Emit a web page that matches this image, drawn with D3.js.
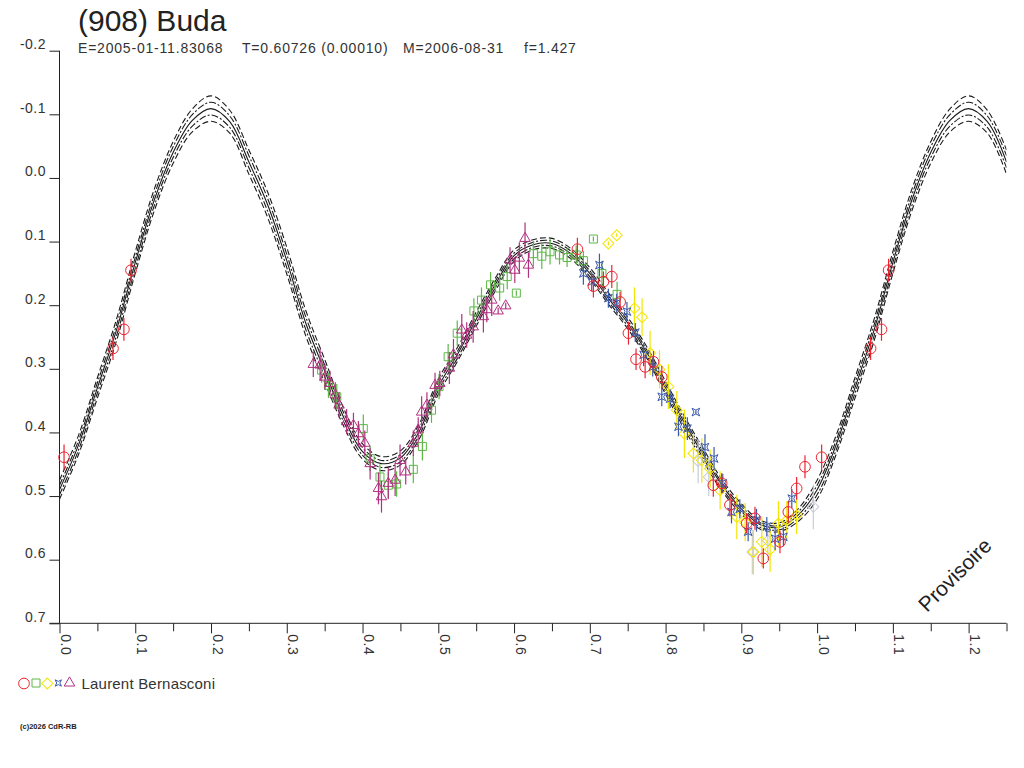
<!DOCTYPE html>
<html>
<head>
<meta charset="utf-8">
<script src="https://cdn.jsdelivr.net/npm/d3@7"></script>
<style>
body { margin: 0; background: #fff; }
text { font-family: "Liberation Sans", Arial, sans-serif; fill: #333; }
</style>
</head>
<body>
<svg class="chart" width="1024" height="768"></svg>
<script>

// fit curve (one rotation)
var curvePhase = [0, 0.025, 0.05, 0.075, 0.1, 0.125, 0.15, 0.175, 0.2, 0.225, 0.25, 0.275, 0.3, 0.325, 0.35, 0.375, 0.4, 0.425, 0.45, 0.475,
	0.5, 0.525, 0.55, 0.575, 0.6, 0.625, 0.65, 0.675, 0.7, 0.725, 0.75, 0.775, 0.8, 0.825, 0.85, 0.875, 0.9, 0.925, 0.95, 0.975, 1.0];
var curveMid = [0.490, 0.420, 0.330, 0.240, 0.133, 0.035, -0.040, -0.090, -0.109, -0.088, -0.025, 0.043, 0.130, 0.228, 0.303, 0.376, 0.430, 0.449, 0.440, 0.398,
	0.328, 0.278, 0.222, 0.168, 0.122, 0.105, 0.103, 0.119, 0.150, 0.190, 0.228, 0.274, 0.330, 0.385, 0.436, 0.484, 0.520, 0.545, 0.549, 0.530, 0.490];
var curveOuterUp = [0.475, 0.405, 0.314, 0.223, 0.116, 0.018, -0.057, -0.108, -0.129, -0.106, -0.044, 0.023, 0.109, 0.208, 0.285, 0.362, 0.418, 0.438, 0.429, 0.386,
	0.316, 0.267, 0.211, 0.158, 0.113, 0.097, 0.095, 0.111, 0.141, 0.181, 0.219, 0.265, 0.320, 0.375, 0.426, 0.475, 0.512, 0.538, 0.542, 0.520, 0.475];
var curveOuterDown = [0.505, 0.435, 0.346, 0.257, 0.150, 0.052, -0.023, -0.072, -0.089, -0.070, -0.006, 0.063, 0.151, 0.248, 0.321, 0.390, 0.442, 0.460, 0.451, 0.410,
	0.340, 0.289, 0.233, 0.178, 0.131, 0.113, 0.111, 0.127, 0.159, 0.199, 0.237, 0.283, 0.340, 0.395, 0.446, 0.493, 0.528, 0.552, 0.556, 0.540, 0.505];
var curveInnerUp = [0.483, 0.413, 0.322, 0.232, 0.125, 0.027, -0.049, -0.099, -0.119, -0.097, -0.035, 0.033, 0.120, 0.218, 0.294, 0.369, 0.424, 0.444, 0.435, 0.392,
	0.322, 0.273, 0.217, 0.163, 0.118, 0.101, 0.099, 0.115, 0.146, 0.186, 0.224, 0.270, 0.325, 0.380, 0.431, 0.480, 0.516, 0.542, 0.546, 0.525, 0.483];
var curveInnerDown = [0.498, 0.428, 0.338, 0.249, 0.142, 0.044, -0.032, -0.081, -0.099, -0.079, -0.016, 0.053, 0.141, 0.238, 0.312, 0.383, 0.436, 0.455, 0.446, 0.404,
	0.334, 0.284, 0.228, 0.173, 0.127, 0.109, 0.107, 0.123, 0.155, 0.195, 0.233, 0.279, 0.335, 0.390, 0.441, 0.489, 0.524, 0.549, 0.553, 0.535, 0.498];

// observations, by session
var redPhase = [0.006, 0.0706, 0.085, 0.0944, 0.6836, 0.7047, 0.718, 0.729, 0.740, 0.751, 0.761, 0.773, 0.784, 0.795, 0.863, 0.874, 0.885, 0.907, 0.918, 0.929, 0.951, 0.962, 0.973, 0.984];
var redMag = [0.439, 0.268, 0.238, 0.145, 0.112, 0.170, 0.163, 0.155, 0.195, 0.244, 0.285, 0.297, 0.289, 0.313, 0.483, 0.480, 0.514, 0.543, 0.535, 0.598, 0.572, 0.525, 0.488, 0.454];
var redErr = [0.020, 0.018, 0.018, 0.018, 0.018, 0.018, 0.016, 0.018, 0.016, 0.018, 0.017, 0.018, 0.017, 0.018, 0.018, 0.016, 0.018, 0.016, 0.018, 0.016, 0.018, 0.017, 0.018, 0.018];

var greenPhase = [0.346, 0.355, 0.366, 0.401, 0.410, 0.423, 0.434, 0.445, 0.467, 0.479, 0.491, 0.501, 0.513, 0.525, 0.547, 0.557, 0.569, 0.581, 0.591, 0.603,
	0.6255, 0.6366, 0.6475, 0.660, 0.670, 0.682, 0.6915, 0.7047, 0.716, 0.736];
var greenMag = [0.302, 0.326, 0.344, 0.394, 0.441, 0.470, 0.483, 0.481, 0.458, 0.422, 0.365, 0.328, 0.281, 0.244, 0.209, 0.192, 0.168, 0.173, 0.155, 0.181,
	0.119, 0.123, 0.116, 0.121, 0.125, 0.121, 0.130, 0.096, 0.150, 0.183];
var greenErr = [0.020, 0.020, 0.020, 0.022, 0.020, 0.020, 0.020, 0.020, 0.022, 0.022, 0.020, 0.020, 0.020, 0.020, 0.020, 0.020, 0.020, 0.020, 0.020, 0.004,
	0.020, 0.020, 0.020, 0.015, 0.015, 0.015, 0.015, 0.004, 0.020, 0.020];

var yellowPhase = [0.7245, 0.7355, 0.7589, 0.769, 0.7795, 0.792, 0.8037, 0.8148, 0.8248, 0.8367, 0.8478, 0.8588, 0.872, 0.894, 0.905, 0.916, 0.927, 0.938, 0.949, 0.960, 0.973];
var yellowMag = [0.103, 0.090, 0.205, 0.219, 0.275, 0.301, 0.328, 0.365, 0.402, 0.433, 0.444, 0.457, 0.491, 0.533, 0.541, 0.588, 0.572, 0.584, 0.543, 0.538, 0.530];
var yellowErr = [0.003, 0.003, 0.033, 0.030, 0.035, 0.030, 0.035, 0.030, 0.038, 0.030, 0.035, 0.030, 0.030, 0.035, 0.030, 0.035, 0.040, 0.035, 0.035, 0.030, 0.030];

var greyPhase = [0.843, 0.857, 0.9145, 0.935, 0.995];
var greyMag = [0.445, 0.470, 0.588, 0.570, 0.517];
var greyErr = [0.035, 0.030, 0.035, 0.030, 0.035];

var bluePhase = [0.6915, 0.7025, 0.7127, 0.7245, 0.7355, 0.749, 0.760, 0.771, 0.783, 0.795, 0.806, 0.817, 0.8288, 0.840, 0.852, 0.864, 0.8755, 0.887, 0.898, 0.909, 0.920, 0.9336, 0.9446, 0.9555, 0.9666];
var blueMag = [0.150, 0.163, 0.137, 0.189, 0.197, 0.210, 0.243, 0.278, 0.297, 0.344, 0.347, 0.391, 0.394, 0.368, 0.423, 0.441, 0.480, 0.525, 0.520, 0.556, 0.538, 0.548, 0.567, 0.564, 0.504];
var blueErr = [0.018, 0.015, 0.018, 0.015, 0.015, 0.015, 0.015, 0.018, 0.015, 0.015, 0.015, 0.015, 0.018, 0.003, 0.020, 0.018, 0.015, 0.018, 0.015, 0.015, 0.018, 0.015, 0.018, 0.015, 0.015];

var purplePhase = [0.335, 0.344, 0.3505, 0.357, 0.364, 0.369, 0.379, 0.388, 0.3945, 0.403, 0.410, 0.421, 0.425, 0.434, 0.443, 0.4495, 0.457, 0.467, 0.4735, 0.478,
	0.485, 0.4957, 0.502, 0.5146, 0.520, 0.531, 0.5375, 0.546, 0.5595, 0.564, 0.5705, 0.579, 0.589, 0.5947, 0.601, 0.607, 0.6145, 0.619];
var purpleMag = [0.293, 0.294, 0.313, 0.323, 0.341, 0.357, 0.383, 0.389, 0.402, 0.417, 0.449, 0.488, 0.501, 0.480, 0.475, 0.444, 0.462, 0.417, 0.396, 0.368,
	0.357, 0.326, 0.323, 0.299, 0.278, 0.239, 0.247, 0.234, 0.218, 0.207, 0.192, 0.209, 0.201, 0.129, 0.145, 0.126, 0.095, 0.137];
var purpleErr = [0.020, 0.025, 0.020, 0.020, 0.020, 0.020, 0.020, 0.020, 0.020, 0.020, 0.025, 0.025, 0.025, 0.025, 0.025, 0.025, 0.020, 0.020, 0.020, 0.025,
	0.020, 0.020, 0.020, 0.025, 0.025, 0.025, 0.020, 0.025, 0.025, 0.020, 0.025, 0.005, 0.005, 0.020, 0.020, 0.025, 0.025, 0.020];

var xMajorTicks = [0, 0.1, 0.2, 0.3, 0.4, 0.5, 0.6, 0.7, 0.8, 0.9, 1.0, 1.1, 1.2];
var xTickLabels = ["0.0", "0.1", "0.2", "0.3", "0.4", "0.5", "0.6", "0.7", "0.8", "0.9", "1.0", "1.1", "1.2"];
var xMinorTicks = [0.05, 0.15, 0.25, 0.35, 0.45, 0.55, 0.65, 0.75, 0.85, 0.95, 1.05, 1.15, 1.25];
var yTicks = [-0.2, -0.1, 0, 0.1, 0.2, 0.3, 0.4, 0.5, 0.6, 0.7];
var yTickLabels = ["-0.2", "-0.1", "0.0", "0.1", "0.2", "0.3", "0.4", "0.5", "0.6", "0.7"];

var observer = "Laurent Bernasconi";

var margin = {top: 50.7, right: 17.5, bottom: 144.7, left: 59.5},
	width = 1024 - margin.left - margin.right,
	height = 768 - margin.top - margin.bottom;

var x = d3.scaleLinear()
	.domain([0, 1.25])
	.range([0, width]);
var y = d3.scaleLinear()
	.domain([-0.2, 0.7])
	.range([0, height]);

var svg = d3.select(".chart");
var chart = svg.append("g")
	.attr("transform", "translate(" + margin.left + "," + margin.top + ")");

// phase plot: anything in the first quarter of the rotation is shown again after 1.0
function unfold(ph, vals, errs) {
	var out = [];
	ph.forEach(function(p, i) {
		out.push({p: p, m: vals[i], e: errs ? errs[i] : 0});
		if (p + 1 > 1.0 && p + 1 <= 1.25 + 1e-9) out.push({p: p + 1, m: vals[i], e: errs ? errs[i] : 0});
	});
	return out.sort(function(a, b) { return a.p - b.p; });
}

// axes
var yAxis = d3.axisLeft(y)
	.tickValues(yTicks)
	.tickSize(10)
	.tickFormat(function(d, i) { return yTickLabels[i]; });
var gy = chart.append("g").call(yAxis);
gy.select(".domain").remove();
gy.selectAll("line").attr("stroke", "#222");
gy.selectAll("text")
	.attr("x", -13.5)
	.attr("dy", -2)
	.style("font-size", "14px")
	.style("letter-spacing", "0.5px")
	.style("fill", "#333")
	.style("font-family", "'Liberation Sans', Arial, sans-serif");

var gxMinor = chart.append("g")
	.attr("transform", "translate(0," + height + ")")
	.call(d3.axisBottom(x).tickValues(xMinorTicks).tickSize(8).tickFormat(""));
gxMinor.select(".domain").remove();
gxMinor.selectAll("line").attr("stroke", "#222");

var gx = chart.append("g")
	.attr("transform", "translate(0," + height + ")")
	.call(d3.axisBottom(x).tickValues(xMajorTicks).tickSize(10).tickFormat(function(d, i) { return xTickLabels[i]; }));
gx.select(".domain").remove();
gx.selectAll("line").attr("stroke", "#222");
gx.selectAll("text")
	.attr("x", 0)
	.attr("y", 0)
	.attr("dy", 0)
	.attr("transform", "translate(1,11) rotate(90)")
	.style("text-anchor", "start")
	.style("font-size", "14px")
	.style("letter-spacing", "0.5px")
	.style("fill", "#333")
	.style("font-family", "'Liberation Sans', Arial, sans-serif");

chart.append("line")
	.attr("x1", 0).attr("x2", 0)
	.attr("y1", y(-0.2)).attr("y2", y(0.7))
	.attr("stroke", "#222");
chart.append("line")
	.attr("x1", -10).attr("x2", x(1.25))
	.attr("y1", height).attr("y2", height)
	.attr("stroke", "#222");

// fit curves
chart.append("clipPath").attr("id", "plotclip")
  .append("rect")
	.attr("width", width)
	.attr("height", height);

var line = d3.line()
	.x(function(d) { return x(d.p); })
	.y(function(d) { return y(d.m); })
	.curve(d3.curveCatmullRom.alpha(0.5));

var curves = [
	{vals: curveOuterUp, dash: "6,3"},
	{vals: curveOuterDown, dash: "6,3"},
	{vals: curveInnerUp, dash: "7,2,2,2"},
	{vals: curveInnerDown, dash: "7,2,2,2"},
	{vals: curveMid, dash: null}
];
var gc = chart.append("g").attr("clip-path", "url(#plotclip)");
curves.forEach(function(c) {
	gc.append("path")
		.datum(unfold(curvePhase, c.vals))
		.attr("d", line)
		.attr("fill", "none")
		.attr("stroke", "#1a1a1a")
		.attr("stroke-width", 1.1)
		.attr("stroke-dasharray", c.dash);
});

// symbols
var symbolStar4 = {
	draw: function(ctx, size) {
		var r = Math.sqrt(size) / 2, k = r * 0.5;
		ctx.moveTo(-r, -r); ctx.lineTo(0, -k); ctx.lineTo(r, -r); ctx.lineTo(k, 0);
		ctx.lineTo(r, r); ctx.lineTo(0, k); ctx.lineTo(-r, r); ctx.lineTo(-k, 0);
		ctx.closePath();
	}
};
var shapes = {
	circle: {path: d3.symbol(d3.symbolCircle, 90)(), rot: 0},
	square: {path: d3.symbol(d3.symbolSquare, 64)(), rot: 0},
	diamond: {path: d3.symbol(d3.symbolSquare, 60)(), rot: 45},
	star: {path: d3.symbol(symbolStar4, 60)(), rot: 0},
	triangle: {path: d3.symbol(d3.symbolTriangle, 48)(), rot: 0}
};

var sessions = [
	{ph: greyPhase, mag: greyMag, err: greyErr, color: "#c9ccd8", shape: "diamond"},
	{ph: greenPhase, mag: greenMag, err: greenErr, color: "#5cb946", shape: "square"},
	{ph: purplePhase, mag: purpleMag, err: purpleErr, color: "#b1307f", shape: "triangle"},
	{ph: yellowPhase, mag: yellowMag, err: yellowErr, color: "#f3e600", shape: "diamond"},
	{ph: bluePhase, mag: blueMag, err: blueErr, color: "#3c59ab", shape: "star"},
	{ph: redPhase, mag: redMag, err: redErr, color: "#ec2430", shape: "circle"}
];

sessions.forEach(function(s) {
	var pts = unfold(s.ph, s.mag, s.err);
	var g = chart.append("g");
	g.selectAll("line")
		.data(pts)
	  .enter().append("line")
		.attr("x1", function(d) { return x(d.p); })
		.attr("x2", function(d) { return x(d.p); })
		.attr("y1", function(d) { return y(d.m - d.e); })
		.attr("y2", function(d) { return y(d.m + d.e); })
		.attr("stroke", s.color)
		.attr("stroke-width", 1.2);
	g.selectAll("path")
		.data(pts)
	  .enter().append("path")
		.attr("d", shapes[s.shape].path)
		.attr("transform", function(d) { return "translate(" + x(d.p) + "," + y(d.m) + ") rotate(" + shapes[s.shape].rot + ")"; })
		.attr("fill", "none")
		.attr("stroke", s.color)
		.attr("stroke-width", 1);
});

// titles
svg.append("text")
	.attr("x", 78)
	.attr("y", 31)
	.style("font-size", "30px")
	.style("fill", "#222")
	.text("(908) Buda");

var header = [
	{x: 78, t: "E=2005-01-11.83068"},
	{x: 242, t: "T=0.60726 (0.00010)"},
	{x: 403, t: "M=2006-08-31"},
	{x: 524, t: "f=1.427"}
];
svg.selectAll(".hdr")
	.data(header)
  .enter().append("text")
	.attr("class", "hdr")
	.attr("x", function(d) { return d.x; })
	.attr("y", 53)
	.style("font-size", "14px")
	.style("letter-spacing", "0.8px")
	.style("fill", "#333")
	.text(function(d) { return d.t; });

svg.append("text")
	.attr("transform", "translate(960,580) rotate(-45)")
	.style("text-anchor", "middle")
	.style("font-size", "21px")
	.style("fill", "#222")
	.text("Provisoire");

// legend
var legendShapes = [
	{shape: "circle", color: "#ec2430", x: 24, y: 683.5},
	{shape: "square", color: "#5cb946", x: 36, y: 683},
	{shape: "diamond", color: "#f3e600", x: 47.3, y: 683.5},
	{shape: "star", color: "#3c59ab", x: 58.3, y: 683},
	{shape: "triangle", color: "#b1307f", x: 69.5, y: 683}
];
svg.selectAll(".leg")
	.data(legendShapes)
  .enter().append("path")
	.attr("class", "leg")
	.attr("d", function(d) { return d.shape == "star" ? d3.symbol(symbolStar4, 40)() : shapes[d.shape].path; })
	.attr("transform", function(d) { return "translate(" + d.x + "," + d.y + ") rotate(" + shapes[d.shape].rot + ")"; })
	.attr("fill", "none")
	.attr("stroke", function(d) { return d.color; });
svg.append("text")
	.attr("x", 81.5)
	.attr("y", 688.5)
	.style("font-size", "15px")
	.style("letter-spacing", "0.2px")
	.style("fill", "#333")
	.text(observer);

svg.append("text")
	.attr("x", 20)
	.attr("y", 729)
	.style("font-size", "7.5px")
	.style("font-weight", "bold")
	.style("fill", "#222")
	.text("(c)2026 CdR-RB");

</script>
</body>
</html>
